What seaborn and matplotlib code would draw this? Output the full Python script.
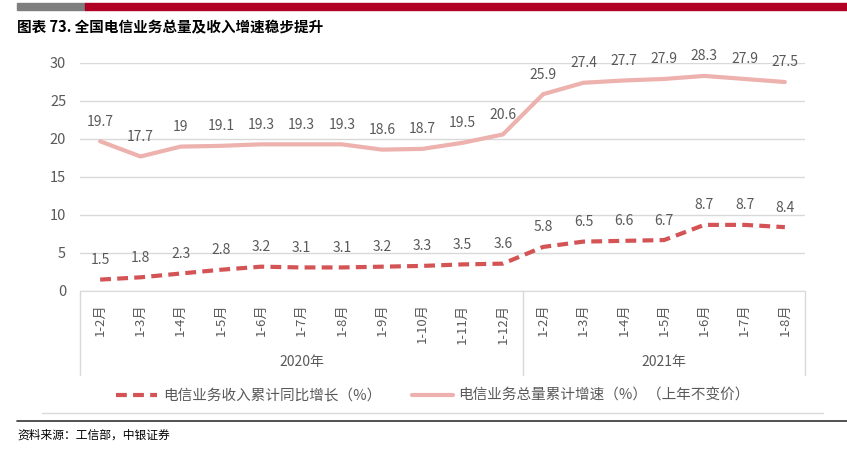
import numpy as np
import pandas as pd
import seaborn as sns
import matplotlib.pyplot as plt
from matplotlib.patches import Rectangle
from matplotlib.lines import Line2D

# data
months = ['1-2月', '1-3月', '1-4月', '1-5月', '1-6月', '1-7月', '1-8月', '1-9月', '1-10月', '1-11月', '1-12月',
          '1-2月', '1-3月', '1-4月', '1-5月', '1-6月', '1-7月', '1-8月']
years = ['2020年', '2021年']
year_counts = [11, 7]
revenue = [1.5, 1.8, 2.3, 2.8, 3.2, 3.1, 3.1, 3.2, 3.3, 3.5, 3.6, 5.8, 6.5, 6.6, 6.7, 8.7, 8.7, 8.4]
volume = [19.7, 17.7, 19, 19.1, 19.3, 19.3, 19.3, 18.6, 18.7, 19.5, 20.6, 25.9, 27.4, 27.7, 27.9, 28.3, 27.9, 27.5]
rev_name = '电信业务收入累计同比增长（%）'
vol_name = '电信业务总量累计增速（%）（上年不变价）'

sns.set_style('white')
plt.rcParams['font.family'] = ['Noto Sans CJK SC', 'DejaVu Sans']

txt = '#595959'
red = '#D45355'
pink = '#EDB1AE'

df = pd.DataFrame({'idx': np.arange(len(months)), 'rev': revenue, 'vol': volume})

fig = plt.figure(figsize=(8.47, 4.55), dpi=100)
W, H = 847, 455
ax = fig.add_axes([80 / W, 1 - 291 / H, 725 / W, (291 - 63) / H])

sns.lineplot(data=df, x='idx', y='rev', ax=ax, color=red, lw=3, label=rev_name)
ax.lines[-1].set_dashes([2.6, 1.5])
sns.lineplot(data=df, x='idx', y='vol', ax=ax, color=pink, lw=3, label=vol_name)

for i, v in enumerate(revenue):
    ax.annotate(f'{v:g}', (i, v), xytext=(0, 9), textcoords='offset points',
                ha='center', va='bottom', fontsize=10, color=txt)
for i, v in enumerate(volume):
    ax.annotate(f'{v:g}', (i, v), xytext=(0, 9), textcoords='offset points',
                ha='center', va='bottom', fontsize=10, color=txt)

ax.set_xlim(-0.5, len(months) - 0.5)
ax.set_ylim(0, 30)
ax.set_yticks(range(0, 31, 5))
ax.grid(axis='y', color='#d9d9d9', lw=1)
ax.set_axisbelow(True)
ax.set_xticks(range(len(months)))
ax.set_xticklabels(months, rotation=90, va='top', ha='center')
ax.tick_params(axis='x', length=0, pad=9, labelsize=9.5, labelcolor=txt)
ax.tick_params(axis='y', length=0, pad=10, labelsize=10.5, labelcolor=txt)
ax.set_xlabel('')
ax.set_ylabel('')
for s in ['top', 'right', 'left']:
    ax.spines[s].set_visible(False)
ax.spines['bottom'].set_color('#d9d9d9')

# year group box
trans = ax.get_xaxis_transform()
depth = -(375 - 291) / (291 - 63)
edges = [-0.5]
for n in year_counts:
    edges.append(edges[-1] + n)
for e in edges:
    ax.add_line(Line2D([e, e], [0, depth], transform=trans, color='#d9d9d9', lw=1, clip_on=False))
for k, y in enumerate(years):
    ax.text((edges[k] + edges[k + 1]) / 2, -(362 - 291) / (291 - 63), y, transform=trans,
            ha='center', va='center', fontsize=10, color=txt)

leg = ax.legend(loc='center', bbox_to_anchor=((433 - 80) / 725, -(396 - 291) / (291 - 63)),
                ncol=2, frameon=False, fontsize=10.5, handlelength=2.8, columnspacing=2.1,
                handletextpad=0.4)
for t in leg.get_texts():
    t.set_color(txt)

# header and footer
fig.patches.append(Rectangle((17 / W, 1 - 10 / H), 68 / W, 7 / H, transform=fig.transFigure,
                             color='#7f7f7f', zorder=0))
fig.patches.append(Rectangle((85 / W, 1 - 10 / H), (847 - 85) / W, 7 / H, transform=fig.transFigure,
                             color='#B00024', zorder=0))
fig.text(17 / W, 1 - 27 / H, '图表 73. 全国电信业务总量及收入增速稳步提升', fontsize=10.5,
         fontweight='bold', va='center', ha='left', color='black')
fig.add_artist(Line2D([42 / W, 823 / W], [1 - 413 / H] * 2, transform=fig.transFigure, color='#d9d9d9', lw=1))
fig.add_artist(Line2D([17 / W, 1], [1 - 421 / H] * 2, transform=fig.transFigure, color='#333333', lw=1.2))
fig.text(17 / W, 1 - 435 / H, '资料来源：工信部，中银证券', fontsize=8.5, va='center', ha='left',
         color='black', style='italic')

fig.savefig('out.png', dpi=100)
